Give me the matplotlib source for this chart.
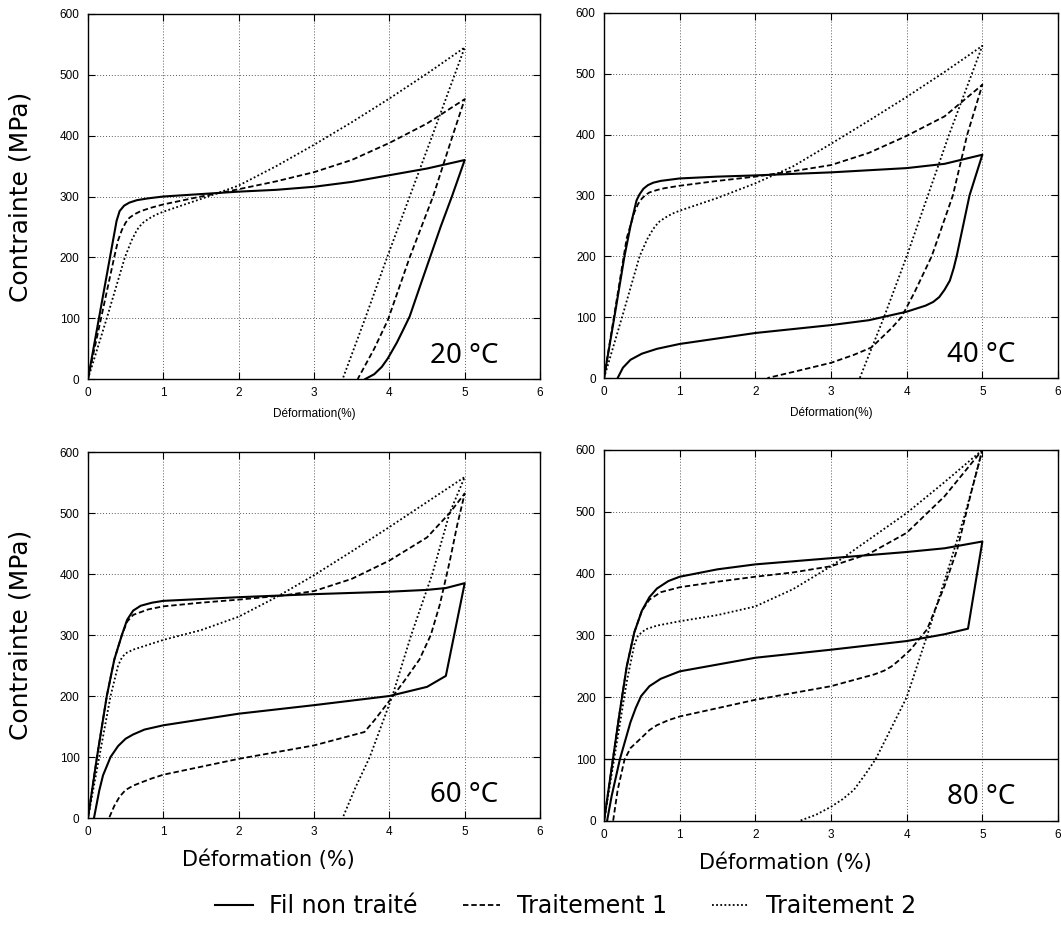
import matplotlib.pyplot as plt

# each curve: loading from (0,0) up to 5 %, then unloading back to zero stress
# 20 °C
fil_20_x = [0, 0.2, 0.38, 0.42, 0.48, 0.55, 0.65, 0.8, 1.0, 1.5, 2.0, 2.5, 3.0, 3.5, 4.0, 4.5, 5.0,
            4.83, 4.68, 4.54, 4.4, 4.27, 4.18, 4.1, 3.98, 3.9, 3.8, 3.68]
fil_20_y = [0, 137, 260, 276, 285, 290, 294, 297, 300, 304, 308, 311, 316, 324, 335, 346, 360,
            300, 250, 200, 150, 103, 80, 60, 34, 20, 8, 0]
t1_20_x = [0, 0.2, 0.35, 0.4, 0.45, 0.5, 0.55, 0.62, 0.7, 0.85, 1.0, 1.5, 2.0, 2.5, 3.0, 3.5, 4.0, 4.5, 5.0,
           4.84, 4.58, 4.27, 3.98, 3.8, 3.58]
t1_20_y = [0, 115, 201, 228, 245, 257, 265, 271, 276, 282, 287, 300, 312, 325, 340, 360, 388, 420, 460,
           400, 300, 200, 97, 50, 0]
t2_20_x = [0, 0.25, 0.49, 0.58, 0.65, 0.72, 0.8, 0.9, 1.0, 1.5, 2.0, 2.5, 3.0, 3.5, 4.0, 4.5, 5.0,
           4.57, 4.27, 3.97, 3.68, 3.38]
t2_20_y = [0, 100, 200, 228, 245, 256, 263, 270, 275, 296, 318, 350, 385, 422, 461, 502, 545,
           400, 300, 200, 100, 0]

# 40 °C
fil_40_x = [0, 0.15, 0.27, 0.35, 0.43, 0.47, 0.52, 0.58, 0.65, 0.75, 1.0, 1.5, 2.0, 3.0, 4.0, 4.5, 5.0,
            4.83, 4.66, 4.62, 4.57, 4.5, 4.43, 4.35, 4.25, 4.1, 4.0, 3.5, 3.0, 2.0, 1.0, 0.7, 0.5,
            0.35, 0.25, 0.18]
fil_40_y = [0, 110, 200, 250, 292, 302, 311, 317, 321, 324, 328, 331, 333, 338, 345, 352, 367,
            300, 200, 180, 160, 145, 133, 125, 119, 113, 109, 95, 87, 74, 56, 48, 40,
            30, 17, 0]
t1_40_x = [0, 0.15, 0.3, 0.4, 0.45, 0.5, 0.55, 0.6, 0.7, 0.8, 1.0, 1.5, 2.0, 2.5, 3.0, 3.5, 4.0, 4.5, 5.0,
           4.8, 4.61, 4.33, 4.1, 3.93, 3.8, 3.7, 3.6, 3.53, 3.3, 3.0, 2.5, 2.16]
t1_40_y = [0, 115, 230, 272, 286, 295, 301, 305, 309, 312, 316, 324, 331, 340, 350, 370, 398, 430, 482,
           400, 300, 200, 140, 100, 82, 70, 58, 50, 38, 25, 10, 0]
t2_40_x = [0, 0.25, 0.47, 0.57, 0.65, 0.72, 0.8, 0.9, 1.0, 1.5, 2.0, 2.5, 3.0, 3.5, 4.0, 4.5, 5.0,
           4.56, 4.0, 3.7, 3.38]
t2_40_y = [0, 105, 200, 228, 245, 256, 263, 270, 275, 296, 320, 348, 385, 423, 462, 503, 546,
           400, 200, 100, 0]

# 60 °C
fil_60_x = [0, 0.12, 0.25, 0.35, 0.45, 0.52, 0.6, 0.7, 0.85, 1.0, 1.5, 2.0, 3.0, 4.0, 4.5, 4.75, 5.0,
            4.75, 4.5, 4.0, 3.0, 2.0, 1.0, 0.75, 0.6, 0.5, 0.4, 0.3, 0.2, 0.15, 0.08]
fil_60_y = [0, 100, 200, 260, 300, 325, 340, 348, 353, 356, 359, 362, 367, 371, 374, 377, 385,
            233, 215, 200, 185, 171, 152, 145, 137, 130, 118, 100, 70, 45, 0]
t1_60_x = [0, 0.12, 0.25, 0.35, 0.45, 0.52, 0.6, 0.8, 1.0, 1.5, 2.0, 2.6, 3.0, 3.5, 4.0, 4.5, 4.8, 5.0,
           4.9, 4.8, 4.67, 4.55, 4.4, 4.2, 4.05, 3.8, 3.67, 3.0, 2.0, 1.0, 0.85, 0.7, 0.6, 0.5, 0.42,
           0.35, 0.28]
t1_60_y = [0, 100, 200, 260, 300, 322, 333, 342, 347, 353, 358, 365, 372, 392, 422, 460, 500, 532,
           480, 420, 350, 300, 260, 225, 200, 160, 141, 119, 97, 71, 65, 58, 53, 46, 35,
           20, 0]
t2_60_x = [0, 0.15, 0.3, 0.4, 0.45, 0.5, 0.6, 0.7, 1.0, 1.5, 2.0, 2.5, 3.0, 3.5, 4.0, 4.5, 5.0,
           4.8, 4.57, 4.29, 4.04, 3.74, 3.55, 3.38]
t2_60_y = [0, 100, 200, 250, 263, 270, 276, 280, 292, 308, 330, 362, 398, 437, 477, 518, 559,
           500, 400, 300, 200, 100, 50, 0]

# 80 °C
fil_80_x = [0, 0.1, 0.2, 0.3, 0.4, 0.5, 0.6, 0.7, 0.85, 1.0, 1.5, 2.0, 3.0, 4.0, 4.5, 5.0,
            4.81, 4.5, 4.0, 3.0, 2.0, 1.0, 0.75, 0.6, 0.49, 0.42, 0.35, 0.21, 0.1, 0.04]
fil_80_y = [0, 85, 170, 250, 305, 340, 362, 376, 388, 395, 407, 415, 425, 435, 441, 452,
            311, 302, 291, 277, 264, 242, 230, 218, 202, 183, 160, 100, 40, 0]
t1_80_x = [0, 0.1, 0.2, 0.3, 0.4, 0.5, 0.6, 0.75, 1.0, 1.5, 2.0, 2.5, 3.0, 3.5, 4.0, 4.5, 5.0,
           4.85, 4.67, 4.5, 4.27, 4.05, 3.9, 3.8, 3.7, 3.57, 3.0, 2.0, 1.0, 0.85, 0.7, 0.6, 0.49,
           0.35, 0.27, 0.18, 0.12]
t1_80_y = [0, 85, 170, 250, 305, 340, 358, 370, 378, 387, 395, 402, 412, 432, 466, 525, 600,
           530, 440, 380, 310, 277, 260, 250, 243, 237, 218, 196, 169, 163, 155, 147, 134,
           118, 99, 50, 0]
t2_80_x = [0, 0.1, 0.2, 0.3, 0.4, 0.45, 0.55, 0.7, 1.0, 1.5, 2.0, 2.5, 3.0, 3.5, 4.0, 4.5, 5.0,
           4.78, 4.53, 4.27, 4.0, 3.59, 3.45, 3.3, 3.15, 3.0, 2.8, 2.58]
t2_80_y = [0, 75, 150, 225, 285, 300, 310, 316, 323, 333, 347, 375, 412, 455, 498, 548, 600,
           500, 400, 300, 200, 100, 75, 50, 35, 23, 10, 0]

temperatures = ["20 °C", "40 °C", "60 °C", "80 °C"]
series_names = ["Fil non traité", "Traitement 1", "Traitement 2"]
curves = [
    [(fil_20_x, fil_20_y), (t1_20_x, t1_20_y), (t2_20_x, t2_20_y)],
    [(fil_40_x, fil_40_y), (t1_40_x, t1_40_y), (t2_40_x, t2_40_y)],
    [(fil_60_x, fil_60_y), (t1_60_x, t1_60_y), (t2_60_x, t2_60_y)],
    [(fil_80_x, fil_80_y), (t1_80_x, t1_80_y), (t2_80_x, t2_80_y)],
]
x_ticks = [0, 1, 2, 3, 4, 5, 6]
y_ticks = [0, 100, 200, 300, 400, 500, 600]

styles = [
    dict(linestyle="-", linewidth=1.5),
    dict(linestyle=(0, (3.0, 1.6)), linewidth=1.3),
    dict(linestyle=(0, (1.0, 1.3)), linewidth=1.3),
]

# axes boxes in figure fractions [left, bottom, width, height]
boxes = [
    [0.0829, 0.5933, 0.4261, 0.3917],
    [0.5693, 0.5944, 0.4279, 0.3917],
    [0.0829, 0.1223, 0.4261, 0.3927],
    [0.5693, 0.1191, 0.4279, 0.3981],
]

fig = plt.figure(figsize=(10.61, 9.32), dpi=100)
lines = []
for i in range(4):
    ax = fig.add_axes(boxes[i])
    for (xs, ys), st in zip(curves[i], styles):
        ln, = ax.plot(xs, ys, color="black", solid_joinstyle="round", **st)
        if i == 0:
            lines.append(ln)
    ax.set_xlim(0, 6)
    ax.set_ylim(0, 600)
    ax.set_xticks(x_ticks)
    ax.set_yticks(y_ticks)
    ax.grid(True, color="0.35", linestyle=(0, (1, 2)), linewidth=0.7)
    ax.set_axisbelow(True)
    ax.tick_params(direction="in", top=True, right=True, length=5, width=0.8,
                   labelsize=8.5, pad=6)
    for lab in ax.get_xticklabels() + ax.get_yticklabels():
        lab.set_family("Liberation Sans")
    for sp in ax.spines.values():
        sp.set_linewidth(1.0)
    if i == 3:
        ax.axhline(100, color="black", linewidth=0.9, zorder=1)
    ax.text(0.907, 0.045, temperatures[i], transform=ax.transAxes, ha="right",
            va="baseline", fontsize=20, family="Noto Sans")
    if i < 2:
        ax.set_xlabel("Déformation(%)", fontsize=8.5, family="Liberation Sans", labelpad=6)
    else:
        ax.set_xlabel("Déformation (%)", fontsize=15, family="DejaVu Sans")
        ax.xaxis.set_label_coords(0.40, -0.085)
    if i % 2 == 0:
        ax.set_ylabel("Contrainte (MPa)", fontsize=18, family="DejaVu Sans")
        ax.yaxis.set_label_coords(-0.122, 0.5)

fig.legend(lines, series_names, loc="center", bbox_to_anchor=(0.533, 0.028), ncol=3,
           frameon=False, prop={"family": "DejaVu Sans", "size": 17},
           handlelength=1.6, handletextpad=0.7, columnspacing=1.9)

fig.savefig("out.png", dpi=100)
